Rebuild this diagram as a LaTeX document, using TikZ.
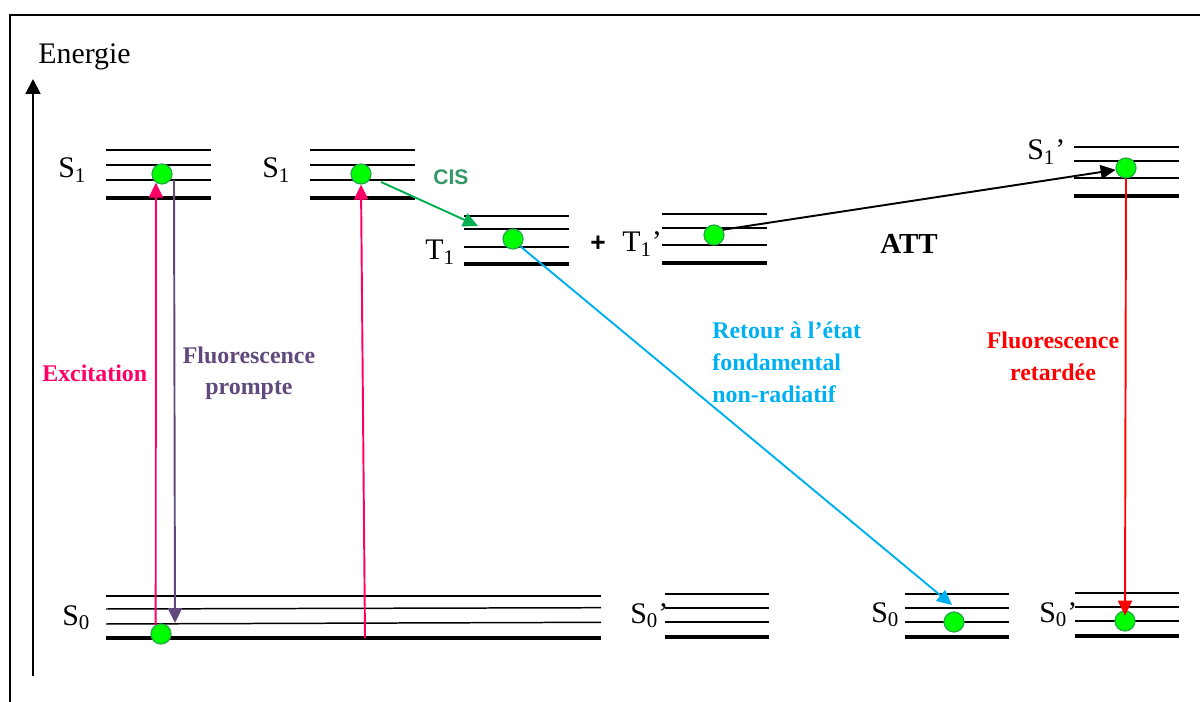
\documentclass[tikz,border=0pt]{standalone}
\usepackage{fontspec}
\setmainfont{Liberation Serif}
\newfontfamily\arialfont{Liberation Sans}
\usetikzlibrary{arrows.meta}
\definecolor{Pink}{HTML}{FF0066}
\definecolor{Plum}{HTML}{604A7B}
\definecolor{CisArrow}{HTML}{00B050}
\definecolor{CisText}{HTML}{339966}
\definecolor{Cyan}{HTML}{00B0F0}
\definecolor{Red}{HTML}{FF0000}
\definecolor{DotFill}{HTML}{00FF00}
\definecolor{DotEdge}{HTML}{22AA44}

\begin{document}
\begin{tikzpicture}[
    x=0.02cm,y=-0.02cm,
    thin lvl/.style={line width=0.85pt},
    base lvl/.style={line width=2.3pt},
    dot/.style={circle,fill=DotFill,draw=DotEdge,line width=0.7pt,minimum size=0.4cm,inner sep=0pt},
    trans/.style={-{Triangle[length=8.5pt,width=8pt]},line width=1.1pt},
    state/.style={font=\fontsize{17}{20}\selectfont,inner sep=0pt,anchor=base west},
    tag/.style={font=\fontsize{13.6}{18}\selectfont\bfseries,inner sep=0pt}
  ]
    \useasboundingbox (0,0) rectangle (1200,702);
    \draw[line width=1.2pt] (1200,15) -- (10,15) -- (10,702);

    % energy axis
    \coordinate (axb) at (33,676);
    \coordinate (axt) at (33,79);
    \draw[line width=1.1pt,-{Triangle[length=8.5pt,width=8.5pt]}] (axb) -- (axt);
    \node[state] (energie) at (38,64) {Energie};

    % levels
    \foreach \xa/\xb/\ya/\yb/\yc/\yd in {106/211/150/165/180/198, 310/415/150/165/180/198,
        464/569/216/229/247/264, 662/767/214/228/245/263, 1074/1179/147/161/178/196,
        665/769/594/608/622/637, 905/1009/594/608/622/637, 1075/1179/593/607/621/636}{
      \draw[thin lvl] (\xa,\ya) -- (\xb,\ya);
      \draw[thin lvl] (\xa,\yb) -- (\xb,\yb);
      \draw[thin lvl] (\xa,\yc) -- (\xb,\yc);
      \draw[base lvl] (\xa,\yd) -- (\xb,\yd);
    }
    \draw[thin lvl] (106,596) -- (601,596);
    \draw[thin lvl] (106,609) -- (601,607.7);
    \draw[thin lvl] (106,624) -- (601,622.3);
    \draw[base lvl] (106,638) -- (601,638);

    % state labels
    \node[state] (s1a) at (58,178) {S\textsubscript{1}};
    \node[state] (s1b) at (262,178) {S\textsubscript{1}};
    \node[state] (t1) at (425,260) {T\textsubscript{1}};
    \node[state] (t1p) at (622,252) {T\textsubscript{1}’};
    \node[state] (s1p) at (1027,160) {S\textsubscript{1}’};
    \node[state] (s0a) at (62,625) {S\textsubscript{0}};
    \node[state] (s0p) at (630,623) {S\textsubscript{0}’};
    \node[state] (s0b) at (871,622) {S\textsubscript{0}};
    \node[state] (s0q) at (1039,622) {S\textsubscript{0}’};
    \node[font=\arialfont\fontsize{15}{18}\selectfont\bfseries] (plus) at (598,244) {+};
    \node[state,font=\fontsize{16.5}{20}\selectfont\bfseries] (att) at (880,254) {ATT};

    % electrons
    \node[dot] (d1) at (162,174) {};
    \node[dot] (d2) at (361,174) {};
    \node[dot] (d3) at (513,239) {};
    \node[dot] (d4) at (714,235) {};
    \node[dot] (d5) at (1126,168) {};
    \node[dot] (d6) at (161,634) {};
    \node[dot] (d7) at (954,622) {};
    \node[dot] (d8) at (1125,621) {};

    \coordinate (fp1) at (174,180);
    \coordinate (fp2) at (175,623);
    \coordinate (ex2) at (365,638);
    \coordinate (cis1) at (381,182);
    \coordinate (cis2) at (478,226);
    \coordinate (ret) at (952,605);

    % transitions
    \draw[trans,Pink] (d6.120) -- (d1.-125);
    \draw[trans,Plum] (fp1) -- (fp2);
    \draw[trans,Pink] (ex2) -- (d2.south);
    \draw[trans,CisArrow] (cis1) -- (cis2);
    \draw[trans,Cyan] (d3.-45) -- (ret);
    \draw[trans,black] (d4.30) -- (d5.190);
    \draw[trans,Red] (d5.south) -- ([yshift=-3]d8.north);

    \node[tag,Pink,anchor=base west] (excit) at (42,381) {Excitation};
    \node[tag,Plum,align=center,anchor=base] (prompte) at (249,395) {Fluorescence\\prompte};
    \node[tag,CisText,font=\arialfont\fontsize{12}{14}\selectfont\bfseries,anchor=base west] (cis) at (433,185) {CIS};
    \node[tag,Cyan,align=left,anchor=base west] (retour) at (712,402) {Retour à l’état\\fondamental\\non-radiatif};
    \node[tag,Red,align=center,anchor=base] (retard) at (1053,380) {Fluorescence\\retardée};
  \end{tikzpicture}
\end{document}
